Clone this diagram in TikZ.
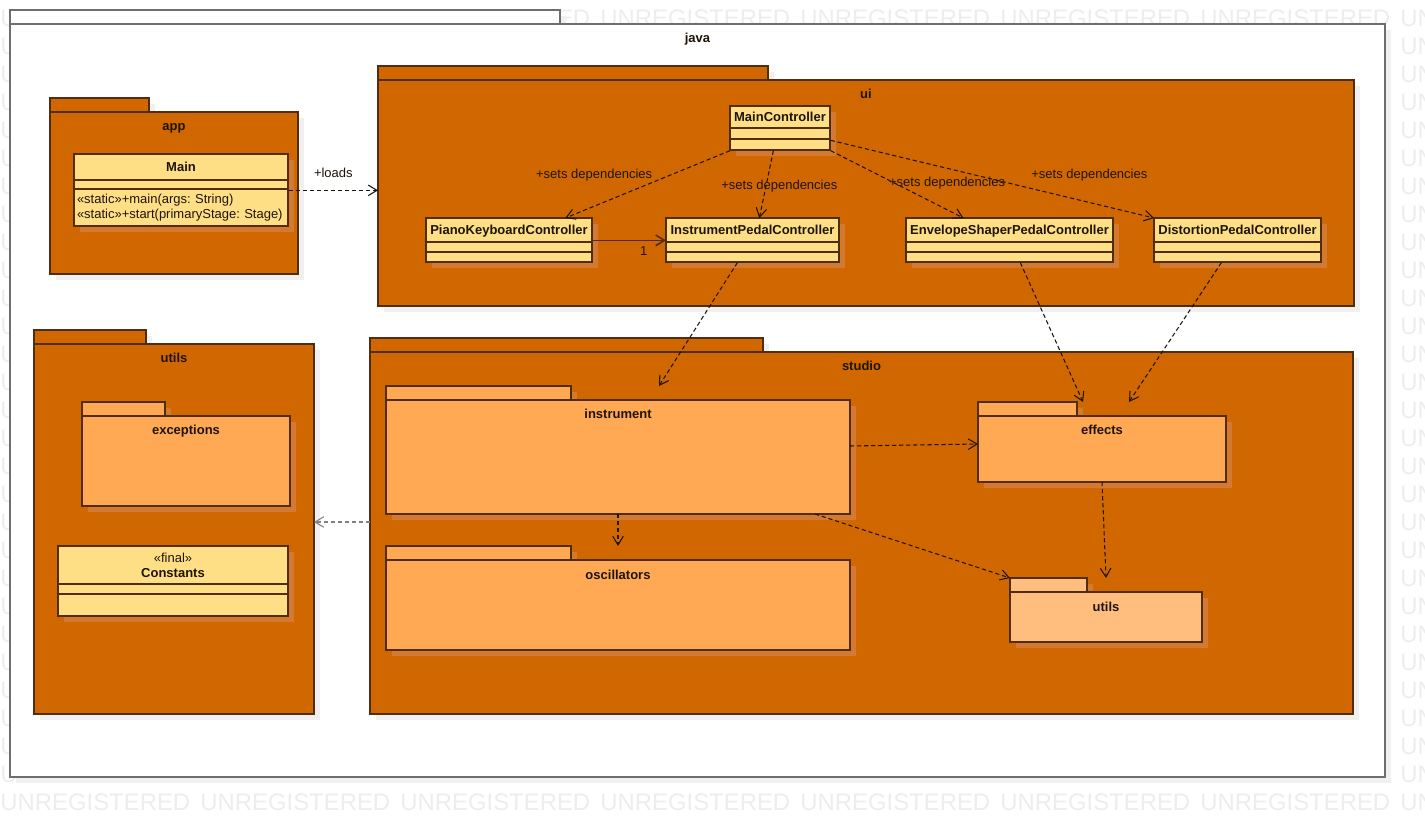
\documentclass[tikz,border=0pt]{standalone}
\usepackage{fontspec}
\setmainfont{Liberation Sans}
\usepackage{tikz}
\usetikzlibrary{arrows.meta}

\definecolor{pkgorange}{RGB}{209,103,0}
\definecolor{pkginner}{RGB}{255,169,85}
\definecolor{pkglight}{RGB}{255,190,125}
\definecolor{clsfill}{RGB}{255,223,133}
\definecolor{pkgline}{RGB}{80,45,15}
\definecolor{javaline}{RGB}{110,110,110}
\definecolor{shadowgray}{RGB}{240,240,240}
\definecolor{shadoworange}{RGB}{212,122,48}
\definecolor{textdark}{RGB}{30,20,10}

\tikzset{
    pkg/.style={draw=pkgline, line width=0.85pt, anchor=north west, inner sep=0pt, outer sep=0pt},
    pkgname/.style={font=\fontsize{7.4}{8.5}\selectfont\bfseries, text=textdark, inner sep=0pt, anchor=base},
    cls/.style={draw=pkgline, fill=clsfill, line width=0.85pt, anchor=north west, inner sep=0pt, outer sep=0pt,
        font=\fontsize{7.4}{8.5}\selectfont, text=textdark},
    dep/.style={draw=textdark, line width=0.6pt, dash pattern=on 2.4pt off 1.6pt,
        -{Straight Barb[length=5pt, width=6pt]}},
    assoc/.style={draw=pkgline, line width=0.9pt, -{Straight Barb[length=5pt, width=6pt]}},
    deplabel/.style={font=\fontsize{7.4}{8.5}\selectfont, text=textdark, inner sep=0pt},
    wmark/.style={font=\fontsize{13.6}{15}\selectfont, text=gray!14, anchor=west, inner sep=0pt}
}

% package: id, x, y (body top), width, height, tab width, options, shadow, name
\newcommand{\umlpkg}[9]{%
    \fill[#8] (#2+6,#3-8) rectangle ++(#6,14);
    \fill[#8] (#2+6,#3+6) rectangle ++(#4,#5);
    \draw[line width=0.85pt, draw=pkgline, #7] (#2,#3-14) rectangle ++(#6,14);
    \node[pkg, #7, minimum width=#4*0.02cm, minimum height=#5*0.02cm] (#1) at (#2,#3) {};
    \node[pkgname] (#1-l) at ([yshift=-0.38cm]#1.north) {#9};
}

% class: id, x, y, width, name height, attr height, op height, name, ops
\newcommand{\umlclass}[9]{%
    \fill[shadoworange] (#2+6,#3+6) rectangle ++(#4,#5+#6+#7);
    \node[anchor=north west, inner sep=0pt, minimum width=#4*0.02cm, minimum height=(#5+#6+#7)*0.02cm] (#1) at (#2,#3) {};
    \node[cls, font=\fontsize{7.4}{8.5}\selectfont\bfseries, align=center, text depth=0pt,
        minimum width=#4*0.02cm, minimum height=#5*0.02cm] (#1-n) at (#2,#3) {#8};
    \node[cls, minimum width=#4*0.02cm, minimum height=#6*0.02cm] (#1-a) at (#1-n.south west) {};
    \node[cls, align=left, text width=(#4-6)*0.02cm,
        minimum width=#4*0.02cm, minimum height=#7*0.02cm] (#1-o) at (#1-a.south west) {#9};
}

\begin{document}
\frenchspacing
\begin{tikzpicture}[x=0.02cm, y=-0.02cm]
    \useasboundingbox (0,0) rectangle (1425,817);
    % watermark, only where it shows
    \begin{scope}
        \clip (0,0) rectangle (1425,817);
        \foreach \i in {2,...,7}
            \node[wmark] (wm-\i-top) at (200*\i, 18) {UNREGISTERED};
        \foreach \i in {0,...,7} {
            \node[wmark] (wm-\i-a) at (200*\i, 774) {UNREGISTERED};
            \node[wmark] (wm-\i-b) at (200*\i, 802) {UNREGISTERED};
        }
        \node[wmark] (wm-l-0) at (0, 18) {U};
        \foreach \k in {1,...,26} {
            \node[wmark] (wm-l-\k) at (0, 18+28*\k) {U};
            \node[wmark] (wm-r-\k) at (1400, 18+28*\k) {UN};
        }
    \end{scope}

    % packages
    \umlpkg{java}{10}{24}{1375}{753}{550}{fill=white, draw=javaline}{shadowgray}{java}
    \umlpkg{app}{50}{112}{248}{162}{99}{fill=pkgorange}{shadowgray}{app}
    \umlpkg{ui}{378}{80}{976}{226}{390}{fill=pkgorange}{shadowgray}{ui}
    \umlpkg{utl}{34}{344}{280}{370}{112}{fill=pkgorange}{shadowgray}{utils}
    \umlpkg{studio}{370}{352}{983}{362}{393}{fill=pkgorange}{shadowgray}{studio}
    \umlpkg{exc}{82}{416}{208}{90}{83}{fill=pkginner}{shadoworange}{exceptions}
    \umlpkg{instr}{386}{400}{464}{114}{185}{fill=pkginner}{shadoworange}{instrument}
    \umlpkg{osc}{386}{560}{464}{90}{185}{fill=pkginner}{shadoworange}{oscillators}
    \umlpkg{eff}{978}{416}{248}{66}{99}{fill=pkginner}{shadoworange}{effects}
    \umlpkg{sutl}{1010}{592}{192}{50}{77}{fill=pkglight}{shadoworange}{utils}

    % classes
    \umlclass{mainc}{74}{154}{214}{26}{9}{37}{Main}{«static»+main(args: String)\\«static»+start(primaryStage: Stage)}
    \umlclass{mc}{730}{106}{100}{22}{11}{11}{MainController}{}
    \umlclass{pkc}{426}{218}{166}{24}{10}{10}{PianoKeyboardController}{}
    \umlclass{ipc}{666}{218}{173}{24}{10}{10}{InstrumentPedalController}{}
    \umlclass{ecp}{906}{218}{207}{24}{10}{10}{EnvelopeShaperPedalController}{}
    \umlclass{dpc}{1154}{218}{167}{24}{10}{10}{DistortionPedalController}{}
    \umlclass{cst}{58}{546}{230}{38}{10}{22}{{\mdseries «final»}\\Constants}{}

    % dependencies
    \draw[dep] (mainc.east) -- (mainc.east -| ui.west)
        node[deplabel, midway, above=0.24cm] (lbl-loads) {+loads};
    \draw[dep] (mc.south west) -- ([xshift=1.12cm]pkc.north)
        node[deplabel, midway, anchor=south east, xshift=0.1cm, yshift=0.06cm] (lbl-pkc) {+sets dependencies};
    \draw[dep] ([xshift=-0.14cm]mc.south) -- ([xshift=0.13cm]ipc.north)
        node[deplabel, midway, xshift=0.26cm, yshift=-0.04cm] (lbl-ipc) {+sets dependencies};
    \draw[dep] (mc.south east) -- ([xshift=-0.93cm]ecp.north)
        node[deplabel, midway, anchor=west, xshift=-0.17cm, yshift=0.02cm] (lbl-ecp) {+sets dependencies};
    \draw[dep] ([yshift=-0.24cm]mc.east) -- (dpc.north west)
        node[deplabel, pos=0.8, above=0.42cm] (lbl-dpc) {+sets dependencies};
    \draw[assoc] (pkc.east) -- (ipc.west)
        node[deplabel, pos=0.75, below=0.1cm, xshift=-0.08cm] (lbl-one) {1};
    \draw[dep] ([xshift=-0.31cm]ipc.south) -- ([xshift=0.82cm, yshift=0.28cm]instr.north);
    \draw[dep] ([xshift=0.21cm]ecp.south) -- ([xshift=-0.38cm, yshift=0.28cm]eff.north);
    \draw[dep] ([xshift=-0.33cm]dpc.south) -- ([xshift=0.54cm, yshift=0.28cm]eff.north);
    \draw[dep] ([yshift=0.22cm]instr.east) -- ([yshift=0.1cm]eff.west);
    \draw[dep] (instr.south) -- ([yshift=0.28cm]osc.north);
    \draw[dep] ([xshift=-0.7cm]instr.south east) -- ([yshift=0.28cm]sutl.north west);
    \draw[dep] (eff.south) -- ([yshift=0.28cm]sutl.north);
    \draw[dep, draw=gray] ([yshift=0.22cm]studio.west) -- ([yshift=0.22cm]studio.west -| utl.east);
\end{tikzpicture}
\end{document}
